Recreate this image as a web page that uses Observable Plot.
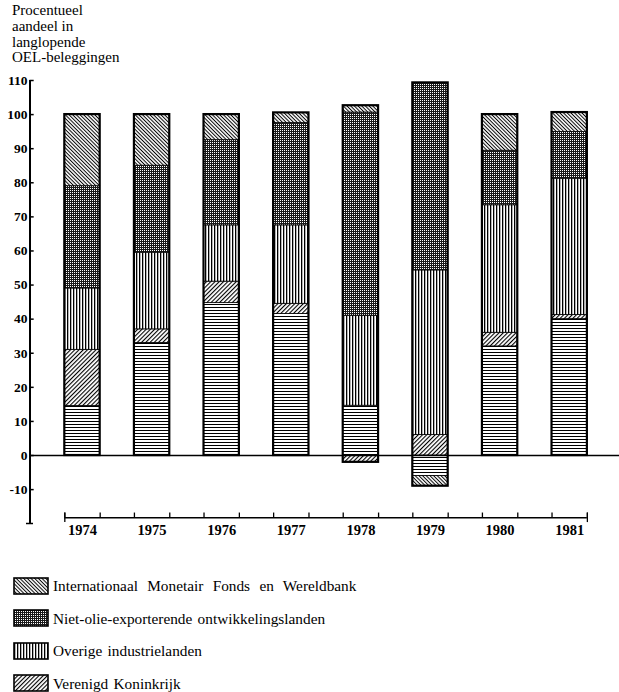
<!DOCTYPE html>
<html><head><meta charset="utf-8">
<script src="https://cdn.jsdelivr.net/npm/d3@7"></script>
<script src="https://cdn.jsdelivr.net/npm/@observablehq/plot@0.6"></script>
<style>
body{margin:0;background:#fff;font-family:"Liberation Serif",serif;color:#000}
#title{height:66px;box-sizing:border-box;padding:3px 0 0 12px;font-size:15px;line-height:15.8px}
#legend{padding-top:20px}
.item{display:flex;align-items:center;height:32.5px;padding-left:13px;font-size:15.3px;word-spacing:1.5px}
.item.wide{word-spacing:5.5px}
.item svg{margin-right:3px;flex:none}
#chart svg{display:block}
</style></head><body>
<div id="title">Procentueel<br>aandeel in<br>langlopende<br>OEL-beleggingen</div>
<div id="chart"></div>
<div id="legend"></div>
<script>
const years = [1974, 1975, 1976, 1977, 1978, 1979, 1980, 1981];
const series = [
  "Verenigde Staten",
  "Verenigd Koninkrijk",
  "Overige industrielanden",
  "Niet-olie-exporterende ontwikkelingslanden",
  "Internationaal Monetair Fonds en Wereldbank"
];
const legendSeries = [
  "Internationaal Monetair Fonds en Wereldbank",
  "Niet-olie-exporterende ontwikkelingslanden",
  "Overige industrielanden",
  "Verenigd Koninkrijk"
];
const verenigdeStaten   = [14.5, 33.0, 44.7, 41.5, 14.6, -6.0, 32.0, 40.0];
const verenigdKoninkrijk = [16.5, 4.0, 6.3, 3.0, -2.0, 6.0, 4.0, 1.2];
const overigeIndustrie  = [18.0, 22.5, 16.5, 23.0, 26.4, 48.3, 37.4, 40.0];
const nietOlie          = [30.0, 25.5, 25.0, 30.0, 59.6, 55.0, 16.0, 13.7];
const imfWereldbank     = [21.0, 15.0, 7.5, 3.0, 2.0, -3.0, 10.6, 5.7];
const yTicks = [-10, 0, 10, 20, 30, 40, 50, 60, 70, 80, 90, 100, 110];

const seriesValues = [verenigdeStaten, verenigdKoninkrijk, overigeIndustrie, nietOlie, imfWereldbank];
const table = [];
series.forEach((s, k) => years.forEach((yr, i) => table.push({year: yr, i, series: s, value: seriesValues[k][i]})));
const totals = years.map((yr, i) => {
  const vals = seriesValues.map(v => v[i]);
  return {year: yr, i, pos: d3.sum(vals.filter(v => v > 0)), neg: d3.sum(vals.filter(v => v < 0))};
});

const half = 0.254;
const xmin = -0.7543, xmax = 7.7155;
const ymin = -19.94, ymax = 110;
const yBase = -18.27;
const edges = years.flatMap((yr, i) => [i - half, i + half]);
const patIds = series.map((s, k) => `url(#pat${k})`);

const serif = "Liberation Serif, Times New Roman, serif";
const chart = Plot.plot({
  width: 619, height: 484,
  marginLeft: 29.5, marginRight: 0, marginTop: 14, marginBottom: 27,
  x: {domain: [xmin, xmax], axis: null},
  y: {domain: [ymin, ymax], axis: null},
  color: {type: "ordinal", domain: series, range: patIds},
  style: {fontFamily: serif, background: "white", overflow: "visible", color: "black"},
  marks: [
    Plot.rectY(table, {
      x1: d => d.i - half, x2: d => d.i + half, y: "value",
      fill: "series", order: series, stroke: "black", strokeWidth: 0.8
    }),
    Plot.rect(totals, {
      x1: d => d.i - half, x2: d => d.i + half, y1: "neg", y2: "pos",
      fill: "none", stroke: "black", strokeWidth: 2.2
    }),
    Plot.ruleY([0], {stroke: "black", strokeWidth: 1.3}),
    Plot.ruleX([xmin], {y1: ymin, y2: ymax, stroke: "black", strokeWidth: 2}),
    Plot.ruleY([ymin], {x1: xmin - 0.05, x2: xmin + 0.05, stroke: "black", strokeWidth: 1.5}),
    Plot.ruleY(yTicks, {x1: xmin, x2: xmin + 0.06, stroke: "black", strokeWidth: 1.5}),
    Plot.text(yTicks, {x: xmin, y: d => d, text: d => String(d), textAnchor: "end", dx: -2.5,
      fontSize: 13.5, fontWeight: "bold", fill: "black"}),
    Plot.ruleY([yBase], {x1: -half, x2: years.length - 1 + half, stroke: "black", strokeWidth: 1.5}),
    Plot.ruleX(edges, {y1: yBase, y2: yBase + 1.4, stroke: "black", strokeWidth: 1.3}),
    Plot.ruleX([-half, years.length - 1 + half], {y1: yBase - 1.4, y2: yBase + 1.4, stroke: "black", strokeWidth: 1.3}),
    Plot.text(years, {x: (d, i) => i, frameAnchor: "bottom", dy: 11, text: d => String(d),
      fontSize: 14.5, fontWeight: "bold", fill: "black"})
  ]
});

const defs = `
<pattern id="pat0" patternUnits="userSpaceOnUse" width="4" height="3">
  <rect width="4" height="3" fill="white"/><rect y="1" width="4" height="1" fill="black"/></pattern>
<pattern id="pat1" patternUnits="userSpaceOnUse" width="3" height="3" patternTransform="rotate(45)">
  <rect width="3" height="3" fill="white"/><rect x="1" width="1.1" height="3" fill="black"/></pattern>
<pattern id="pat2" patternUnits="userSpaceOnUse" width="3" height="4">
  <rect width="3" height="4" fill="white"/><rect x="1" width="1.3" height="4" fill="black"/></pattern>
<pattern id="pat3" patternUnits="userSpaceOnUse" width="2" height="2">
  <rect width="2" height="2" fill="#1a1a1a"/><rect width="1" height="1" fill="white"/></pattern>
<pattern id="pat4" patternUnits="userSpaceOnUse" width="2.6" height="2.6" patternTransform="rotate(-45)">
  <rect width="2.6" height="2.6" fill="white"/><rect x="0.8" width="1" height="2.6" fill="black"/></pattern>`;
d3.select(chart).insert("defs", ":first-child").html(defs);
document.getElementById("chart").appendChild(chart);

const legend = d3.select("#legend");
legendSeries.forEach((s, j) => {
  const k = series.indexOf(s);
  const row = legend.append("div").attr("class", j === 0 ? "item wide" : "item");
  const sw = row.append("svg").attr("width", 37).attr("height", 19);
  sw.append("rect").attr("x", 1).attr("y", 1).attr("width", 34).attr("height", 16)
    .attr("fill", patIds[k]).attr("stroke", "black").attr("stroke-width", 1.6);
  row.append("span").text(s);
});
</script>
</body></html>
